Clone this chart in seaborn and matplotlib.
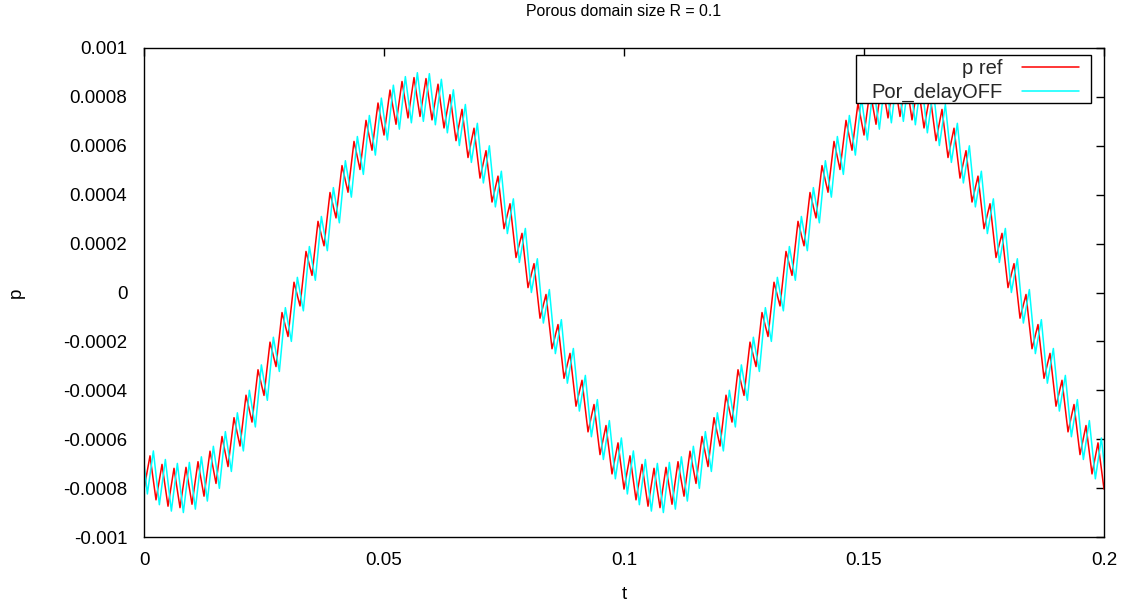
import numpy as np
import pandas as pd
import matplotlib
matplotlib.use("Agg")
import matplotlib.pyplot as plt
import matplotlib.patches as mpatches
from matplotlib.legend_handler import HandlerLine2D
import seaborn as sns
from matplotlib.ticker import FixedLocator, FixedFormatter

# ---------------- data ----------------
title = "Porous domain size R = 0.1"
x_label = "t"
y_label = "p"
series_names = ["p ref", "Por_delayOFF"]
series_colors = ["#ff0000", "#00ffff"]

x_ticks = [0.0, 0.05, 0.1, 0.15, 0.2]
x_tick_labels = ["0", "0.05", "0.1", "0.15", "0.2"]
y_ticks = [-0.001, -0.0008, -0.0006, -0.0004, -0.0002, 0.0, 0.0002, 0.0004, 0.0006, 0.0008, 0.001]
y_tick_labels = ["-0.001", "-0.0008", "-0.0006", "-0.0004", "-0.0002", "0",
                 "0.0002", "0.0004", "0.0006", "0.0008", "0.001"]

# spacing between successive extrema of the fast oscillation and the lag of the second curve
t_step = 0.00125
por_delay = 0.0007

# successive extrema (trough, peak, trough, ...) of "p ref", in units of 1e-4
p_ref_e4 = [
    -8.04, -6.68, -8.48, -7.03, -8.74, -7.19, -8.80, -7.15, -8.66, -6.92,
    -8.33, -6.49, -7.81, -5.89, -7.12, -5.12, -6.28, -4.20, -5.30, -3.16,
    -4.21, -2.03, -3.03, -0.82, -1.80, 0.42, -0.55, 1.68, 0.70, 2.91,
    1.91, 4.09, 3.05, 5.19, 4.10, 6.18, 5.03, 7.04, 5.82, 7.75,
    6.44, 8.28, 6.88, 8.63, 7.14, 8.79, 7.20, 8.75, 7.06, 8.52,
    6.73, 8.09, 6.21, 7.49, 5.52, 6.72, 4.68, 5.80, 3.70, 4.76,
    2.61, 3.63, 1.43, 2.42, 0.20, 1.18, -1.05, -0.08, -2.30, -1.31,
    -3.51, -2.49, -4.65, -3.59, -5.70, -4.58, -6.63, -5.44, -7.42, -6.15,
    -8.04, -6.68, -8.48, -7.03, -8.74, -7.19, -8.80, -7.15, -8.66, -6.92,
    -8.33, -6.49, -7.81, -5.89, -7.12, -5.12, -6.28, -4.20, -5.30, -3.16,
    -4.21, -2.03, -3.03, -0.82, -1.80, 0.42, -0.55, 1.68, 0.70, 2.91,
    1.91, 4.09, 3.05, 5.19, 4.10, 6.18, 5.03, 7.04, 5.82, 7.75,
    6.44, 8.28, 6.88, 8.63, 7.14, 8.79, 7.20, 8.75, 7.06, 8.52,
    6.73, 8.09, 6.21, 7.49, 5.52, 6.72, 4.68, 5.80, 3.70, 4.76,
    2.61, 3.63, 1.43, 2.42, 0.20, 1.18, -1.05, -0.08, -2.30, -1.31,
    -3.51, -2.49, -4.65, -3.59, -5.70, -4.58, -6.63, -5.44, -7.42, -6.15,
    -8.04,
]

# successive extrema of "Por_delayOFF" (starting one extremum before t = 0), units of 1e-4
p_por_e4 = [
    -5.95,
    -8.24, -6.48, -8.68, -6.83, -8.94, -6.99, -9.00, -6.95, -8.86, -6.72,
    -8.53, -6.29, -8.01, -5.69, -7.32, -4.92, -6.48, -4.00, -5.50, -2.96,
    -4.41, -1.83, -3.23, -0.62, -2.00, 0.62, -0.75, 1.88, 0.50, 3.11,
    1.71, 4.29, 2.85, 5.39, 3.90, 6.38, 4.83, 7.24, 5.62, 7.95,
    6.24, 8.48, 6.68, 8.83, 6.94, 8.99, 7.00, 8.95, 6.86, 8.72,
    6.53, 8.29, 6.01, 7.69, 5.32, 6.92, 4.48, 6.00, 3.50, 4.96,
    2.41, 3.83, 1.23, 2.62, 0.00, 1.38, -1.25, 0.12, -2.50, -1.11,
    -3.71, -2.29, -4.85, -3.39, -5.90, -4.38, -6.83, -5.24, -7.62, -5.95,
    -8.24, -6.48, -8.68, -6.83, -8.94, -6.99, -9.00, -6.95, -8.86, -6.72,
    -8.53, -6.29, -8.01, -5.69, -7.32, -4.92, -6.48, -4.00, -5.50, -2.96,
    -4.41, -1.83, -3.23, -0.62, -2.00, 0.62, -0.75, 1.88, 0.50, 3.11,
    1.71, 4.29, 2.85, 5.39, 3.90, 6.38, 4.83, 7.24, 5.62, 7.95,
    6.24, 8.48, 6.68, 8.83, 6.94, 8.99, 7.00, 8.95, 6.86, 8.72,
    6.53, 8.29, 6.01, 7.69, 5.32, 6.92, 4.48, 6.00, 3.50, 4.96,
    2.41, 3.83, 1.23, 2.62, 0.00, 1.38, -1.25, 0.12, -2.50, -1.11,
    -3.71, -2.29, -4.85, -3.39, -5.90, -4.38, -6.83, -5.24, -7.62, -5.95,
    -8.24,
]

# ---------------- build table ----------------
t_ref = np.arange(len(p_ref_e4)) * t_step
t_por = (np.arange(len(p_por_e4)) - 1) * t_step + por_delay

df = pd.concat([
    pd.DataFrame({"t": t_ref, "p": np.array(p_ref_e4) * 1e-4, "series": series_names[0]}),
    pd.DataFrame({"t": t_por, "p": np.array(p_por_e4) * 1e-4, "series": series_names[1]}),
], ignore_index=True)

# ---------------- style ----------------
sns.set_style("white")
plt.rcParams["font.family"] = ["Liberation Sans", "DejaVu Sans"]

W, H = 1124, 608
fig = plt.figure(figsize=(W / 100, H / 100), dpi=100)
ax = fig.add_axes([144 / W, 1 - 537 / H, 960 / W, 489 / H])

sns.lineplot(data=df, x="t", y="p", hue="series", hue_order=series_names,
             palette=dict(zip(series_names, series_colors)),
             sort=False, estimator=None, linewidth=1.1, ax=ax)

ax.set_xlim(x_ticks[0], x_ticks[-1])
ax.set_ylim(y_ticks[0], y_ticks[-1])
ax.xaxis.set_major_locator(FixedLocator(x_ticks))
ax.xaxis.set_major_formatter(FixedFormatter(x_tick_labels))
ax.yaxis.set_major_locator(FixedLocator(y_ticks))
ax.yaxis.set_major_formatter(FixedFormatter(y_tick_labels))

fs = 13.5
ax.tick_params(direction="in", length=6, width=1, color="black",
               top=True, right=True, labelsize=fs, labelcolor="black")
ax.tick_params(axis="y", pad=12)
ax.tick_params(axis="x", pad=11)
for s in ax.spines.values():
    s.set_color("black")
    s.set_linewidth(1.0)
    s.set_visible(True)

ax.set_xlabel(x_label, fontsize=fs, color="black")
ax.set_ylabel(y_label, fontsize=fs, color="black")
ax.xaxis.set_label_coords(0.5, -0.100)
ax.yaxis.set_label_coords(-0.124, 0.5)

fig.text(624 / W, 1 - 12 / H, title, ha="center", va="center", fontsize=11.4,
         color="black")

# gnuplot-like key: opaque box, labels right-aligned, sample line after the label
key_box = mpatches.Rectangle(((856 - 144) / 960, (537 - 103) / 489), 235 / 960, 48 / 489,
                             transform=ax.transAxes, facecolor="white",
                             edgecolor="black", linewidth=1.0, zorder=4.5)
ax.add_patch(key_box)

handles, labels = ax.get_legend_handles_labels()
leg = ax.legend(handles, labels, loc="upper right",
                bbox_to_anchor=((1079 - 144) / 960, (537 - 59) / 489),
                borderaxespad=0, markerfirst=False, frameon=False,
                fontsize=14.5, handlelength=2.84, handletextpad=0.95,
                labelspacing=0.25, borderpad=0,
                handler_map={h: HandlerLine2D(marker_pad=0) for h in handles})
leg.set_zorder(5)

fig.savefig("out.png", dpi=100)
